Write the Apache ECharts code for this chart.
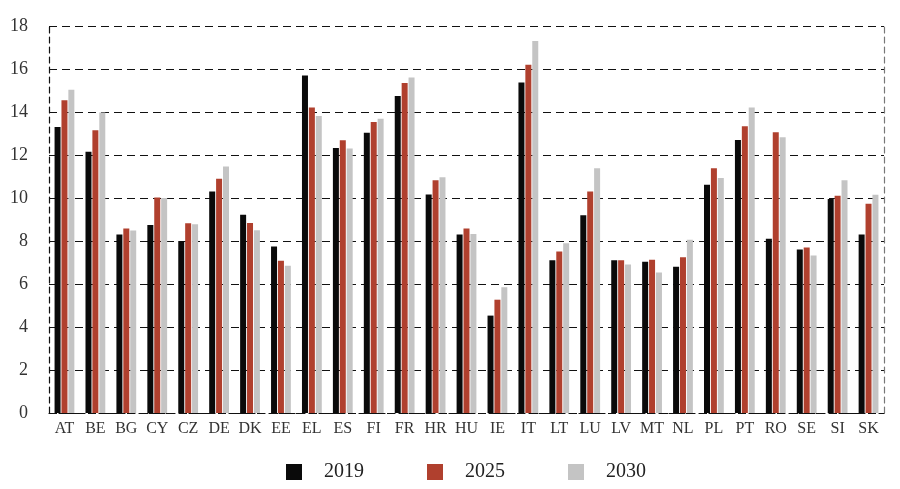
<!DOCTYPE html>
<html>
<head>
<meta charset="utf-8">
<script src="https://cdn.jsdelivr.net/npm/echarts@6/dist/echarts.min.js"></script>
<style>
html,body{margin:0;padding:0;background:#fff;}
#chart{width:900px;height:489px;}
</style>
</head>
<body>
<div id="chart"></div>
<script>
const categories = ['AT','BE','BG','CY','CZ','DE','DK','EE','EL','ES','FI','FR','HR','HU','IE','IT','LT','LU','LV','MT','NL','PL','PT','RO','SE','SI','SK'];
const seriesNames = ['2019','2025','2030'];
const values2019 = [13.3,12.15,8.3,8.75,8.0,10.3,9.22,7.74,15.7,12.32,13.03,14.75,10.16,8.3,4.53,15.37,7.11,9.2,7.11,7.04,6.8,10.62,12.7,8.1,7.61,9.95,8.3];
const values2025 = [14.55,13.15,8.58,10.02,8.82,10.9,8.84,7.08,14.21,12.69,13.53,15.35,10.83,8.58,5.27,16.2,7.51,10.3,7.1,7.13,7.25,11.38,13.34,13.06,7.7,10.1,9.73];
const values2030 = [15.04,13.98,8.49,10.0,8.78,11.47,8.5,6.85,13.81,12.3,13.69,15.6,10.96,8.33,5.85,17.3,7.9,11.38,6.91,6.53,8.06,10.93,14.21,12.83,7.33,10.83,10.15];
const yTicks = {min:0, max:18, interval:2};

const colors = ['#0a0a0a','#b0402e','#c4c4c4'];
const font = '"Liberation Serif","DejaVu Serif",serif';
const chart = echarts.init(document.getElementById('chart'));
const data = [values2019, values2025, values2030];
chart.setOption({
  animation:false,
  color: colors,
  grid:{left:49,right:16,top:26,bottom:76,containLabel:false},
  legend:{
    data: seriesNames,
    left:281, top:457,
    itemWidth:16, itemHeight:16, itemGap:63,
    icon:'rect',
    textStyle:{fontFamily:font,fontSize:20,color:'#222',padding:[0,0,0,17]}
  },
  xAxis:{
    type:'category', data:categories,
    axisLine:{show:true,lineStyle:{color:'#111',type:[6,4],width:1.2}},
    axisTick:{show:false},
    axisLabel:{fontFamily:font,fontSize:16,color:'#333',margin:8,interval:0}
  },
  yAxis:[{
    type:'value', min:yTicks.min, max:yTicks.max, interval:yTicks.interval,
    axisLine:{show:true,lineStyle:{color:'#111',type:[6,4],width:1.2}},
    axisTick:{show:false},
    splitLine:{show:true,lineStyle:{color:'#111',type:[8,5],width:1.2}},
    axisLabel:{fontFamily:font,fontSize:18,color:'#333',margin:21}
  },{
    type:'value', min:yTicks.min, max:yTicks.max, interval:yTicks.interval, position:'right',
    axisLine:{show:true,lineStyle:{color:'#777',type:[6,4],width:1.2}},
    axisTick:{show:false}, splitLine:{show:false}, axisLabel:{show:false}
  }],
  series: seriesNames.map((n,i)=>({
    name:n, type:'bar', data:data[i], barWidth:6, barGap:'15%',
    itemStyle:{color:colors[i]}
  }))
});
</script>
</body>
</html>
